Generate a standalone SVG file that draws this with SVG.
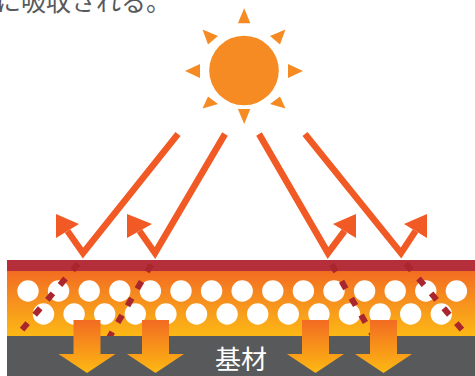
<svg xmlns="http://www.w3.org/2000/svg" width="475" height="376" viewBox="0 0 475 376">
  <style>
    .caption { font-family: "Noto Sans CJK JP", "Noto Sans", sans-serif; fill: #58595b; }
    .label { font-family: "Noto Sans CJK JP", "Noto Sans", sans-serif; fill: #ffffff; }
    .ray { fill: #f68b24; }
    .beam { fill: none; stroke: #f15a24; stroke-width: 6.5; stroke-linejoin: miter; stroke-miterlimit: 10; stroke-linecap: butt; }
    .head { fill: #f15a24; }
    .pore { fill: #ffffff; }
    .dash { fill: none; stroke: #a9262f; stroke-width: 6; stroke-dasharray: 8.5 11; }
    .heat { fill: url(#heatGrad); }
  </style>
  <defs>
    <linearGradient id="layerGrad" x1="0" y1="271" x2="0" y2="336" gradientUnits="userSpaceOnUse">
      <stop offset="0" stop-color="#f36c21"/>
      <stop offset="0.45" stop-color="#f68f1e"/>
      <stop offset="1" stop-color="#fcb815"/>
    </linearGradient>
    <linearGradient id="heatGrad" x1="0" y1="320" x2="0" y2="373" gradientUnits="userSpaceOnUse">
      <stop offset="0" stop-color="#f26b22"/>
      <stop offset="1" stop-color="#fdb913"/>
    </linearGradient>
    <clipPath id="layerClip">
      <rect x="7" y="258" width="468" height="78"/>
    </clipPath>
    <path id="downArrow" d="M-13.5 320 H13.5 V354 H28.5 L0 373 L-28.5 354 H-13.5 Z"/>
  </defs>

  <!-- caption line at the top edge -->
  <g id="caption">
    <text class="caption" x="-4" y="11" font-size="25">に吸収される。</text>
  </g>

  <!-- coating layers -->
  <g id="coating">
    <rect x="7" y="260" width="468" height="11" fill="#b52f3b"/>
    <rect x="7" y="271" width="468" height="65" fill="url(#layerGrad)"/>
    <g id="pores">
      <circle class="pore" cx="28" cy="291" r="10.7"/>
      <circle class="pore" cx="58.6" cy="291" r="10.7"/>
      <circle class="pore" cx="89.2" cy="291" r="10.7"/>
      <circle class="pore" cx="119.8" cy="291" r="10.7"/>
      <circle class="pore" cx="150.4" cy="291" r="10.7"/>
      <circle class="pore" cx="181" cy="291" r="10.7"/>
      <circle class="pore" cx="211.6" cy="291" r="10.7"/>
      <circle class="pore" cx="242.2" cy="291" r="10.7"/>
      <circle class="pore" cx="272.8" cy="291" r="10.7"/>
      <circle class="pore" cx="303.4" cy="291" r="10.7"/>
      <circle class="pore" cx="334" cy="291" r="10.7"/>
      <circle class="pore" cx="364.6" cy="291" r="10.7"/>
      <circle class="pore" cx="395.2" cy="291" r="10.7"/>
      <circle class="pore" cx="425.8" cy="291" r="10.7"/>
      <circle class="pore" cx="456.4" cy="291" r="10.7"/>
      <circle class="pore" cx="43.5" cy="314" r="10.7"/>
      <circle class="pore" cx="74.1" cy="314" r="10.7"/>
      <circle class="pore" cx="104.7" cy="314" r="10.7"/>
      <circle class="pore" cx="135.3" cy="314" r="10.7"/>
      <circle class="pore" cx="165.9" cy="314" r="10.7"/>
      <circle class="pore" cx="196.5" cy="314" r="10.7"/>
      <circle class="pore" cx="227.1" cy="314" r="10.7"/>
      <circle class="pore" cx="257.7" cy="314" r="10.7"/>
      <circle class="pore" cx="288.3" cy="314" r="10.7"/>
      <circle class="pore" cx="318.9" cy="314" r="10.7"/>
      <circle class="pore" cx="349.5" cy="314" r="10.7"/>
      <circle class="pore" cx="380.1" cy="314" r="10.7"/>
      <circle class="pore" cx="410.7" cy="314" r="10.7"/>
      <circle class="pore" cx="441.3" cy="314" r="10.7"/>
    </g>
  </g>

  <!-- light passing through the coating (dashed) -->
  <g id="connectors-transmitted" clip-path="url(#layerClip)">
    <path class="dash" stroke-dashoffset="12" d="M83 258 L15.8 337"/>
    <path class="dash" stroke-dashoffset="12" d="M155 258 L108.3 339"/>
    <path class="dash" stroke-dashoffset="12" d="M328 258 L375 339"/>
    <path class="dash" stroke-dashoffset="12" d="M401 258 L468.2 337"/>
  </g>

  <!-- substrate -->
  <g id="substrate">
    <rect x="7" y="336" width="468" height="40" fill="#58595b"/>
    <text class="label" x="241" y="369" font-size="26" text-anchor="middle">基材</text>
  </g>

  <!-- heat flowing into the substrate -->
  <g id="heat-arrows">
    <use href="#downArrow" class="heat" transform="translate(87 0)"/>
    <use href="#downArrow" class="heat" transform="translate(155.5 0)"/>
    <use href="#downArrow" class="heat" transform="translate(315.5 0)"/>
    <use href="#downArrow" class="heat" transform="translate(383.5 0)"/>
  </g>

  <!-- incident and reflected sunlight -->
  <g id="connectors-reflected">
    <polyline class="beam" points="178,134 83,253 67.5,231"/>
    <polygon class="head" points="56,214 79,224 56,238"/>
    <polyline class="beam" points="225,134 155,253 139.5,231"/>
    <polygon class="head" points="127,214 152,224 127,238"/>
    <polyline class="beam" points="259,134 328,253 344.5,231"/>
    <polygon class="head" points="356,214 333,224 356,238"/>
    <polyline class="beam" points="305,134 401,253 415.5,231"/>
    <polygon class="head" points="427,214 404,224 427,238"/>
  </g>

  <!-- sun -->
  <g id="sun">
    <circle cx="244" cy="70.5" r="34.8" fill="#f68b24"/>
    <polygon class="ray" points="244.2,8.3 250.3,23.3 237.9,23.3"/>
    <polygon class="ray" points="244.2,124 250.3,109 237.9,109"/>
    <polygon class="ray" points="185,71 200,64 200,78"/>
    <polygon class="ray" points="303,71 288,64 288,78"/>
    <polygon class="ray" points="202.5,29.5 218,36 208,44.5"/>
    <polygon class="ray" points="285.5,29.5 270,36 280,44.5"/>
    <polygon class="ray" points="202.5,108.5 218,104 208,96.5"/>
    <polygon class="ray" points="285.5,108.5 270,104 280,96.5"/>
  </g>
</svg>
